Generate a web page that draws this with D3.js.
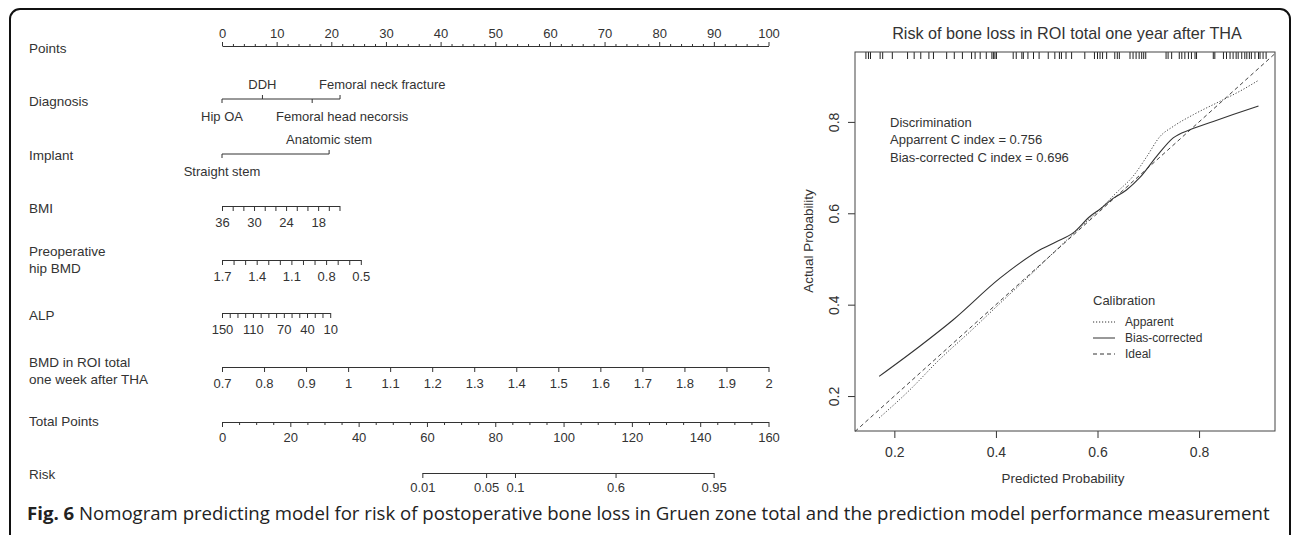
<!DOCTYPE html>
<html>
<head>
<meta charset="utf-8">
<script src="https://cdn.jsdelivr.net/npm/d3@7"></script>
<style>
body { margin: 0; background: #fff; }
svg text { font-family: "Liberation Sans", Arial, sans-serif; fill: #333; }
</style>
</head>
<body>
<svg id="chart" width="1292" height="535"></svg>
<script>
// ---- nomogram data ----
var pointTicks = d3.range(0, 101, 10);
var pointMinor = d3.range(0, 101, 2);

var diagLevels = ["Hip OA", "DDH", "Femoral head necorsis", "Femoral neck fracture"];
var diagPoints = [0, 7.4, 16.5, 21.6];

var implantLevels = ["Straight stem", "Anatomic stem"];
var implantPoints = [0, 19.6];

var bmiEnds = [36, 14], bmiPts = [0, 21.5];
var bmiTicks = d3.range(36, 13, -2);
var bmiLabels = [36, 30, 24, 18];

var bmdEnds = [1.7, 0.5], bmdPts = [0, 25.4];
var bmdTicks = d3.range(5, 18).map(function(d) { return d / 10; });
var bmdLabels = [1.7, 1.4, 1.1, 0.8, 0.5];

var alpEnds = [150, 10], alpPts = [0, 19.8];
var alpTicks = d3.range(10, 151, 10);
var alpLabels = [150, 110, 70, 40, 10];

var roiEnds = [0.7, 2], roiPts = [0, 100];
var roiTicks = d3.range(7, 21).map(function(d) { return d / 10; });

var totalTicks = d3.range(0, 161, 5);
var totalLabels = d3.range(0, 161, 20);

// linear predictor = lpIntercept + lpSlope * total points
var lpIntercept = -9.78, lpSlope = 0.0884;
var riskLabels = [0.01, 0.05, 0.1, 0.6, 0.95];

// ---- calibration data ----
var rugValues = [0.144, 0.149, 0.153, 0.172, 0.177, 0.196, 0.226, 0.239, 0.252, 0.268, 0.277,
  0.303, 0.318, 0.334, 0.352, 0.359, 0.369, 0.381, 0.392, 0.395, 0.398, 0.401, 0.434, 0.440,
  0.451, 0.454, 0.463, 0.474, 0.485, 0.503, 0.516, 0.525, 0.529, 0.538, 0.549, 0.575, 0.594,
  0.600, 0.605, 0.610, 0.618, 0.634, 0.639, 0.643, 0.664, 0.670, 0.676, 0.682, 0.687, 0.691,
  0.695, 0.735, 0.739, 0.746, 0.761, 0.766, 0.772, 0.779, 0.785, 0.792, 0.795, 0.828, 0.831,
  0.848, 0.854, 0.861, 0.867, 0.873, 0.877, 0.884, 0.890, 0.894, 0.899, 0.903, 0.910, 0.917,
  0.920, 0.926, 0.932];

var apparentPred = [0.170, 0.230, 0.288, 0.350, 0.408, 0.460, 0.520, 0.560, 0.600, 0.640, 0.670, 0.697, 0.723, 0.749, 0.789, 0.841, 0.880, 0.917];
var apparentObs  = [0.152, 0.213, 0.279, 0.342, 0.403, 0.457, 0.521, 0.563, 0.604, 0.648, 0.681, 0.724, 0.768, 0.790, 0.816, 0.845, 0.867, 0.891];

var biasPred = [0.170, 0.250, 0.316, 0.408, 0.487, 0.520, 0.552, 0.585, 0.606, 0.630, 0.657, 0.684, 0.716, 0.749, 0.782, 0.828, 0.867, 0.917];
var biasObs  = [0.243, 0.309, 0.367, 0.458, 0.520, 0.538, 0.557, 0.593, 0.610, 0.632, 0.651, 0.679, 0.724, 0.765, 0.783, 0.801, 0.816, 0.835];

var xTicks = [0.2, 0.4, 0.6, 0.8];
var yTicks = [0.2, 0.4, 0.6, 0.8];

var svg = d3.select("#chart");
var ink = "#333";

// outer frame
svg.append("rect")
  .attr("x", 10).attr("y", 9)
  .attr("width", 1280).attr("height", 540)
  .attr("rx", 10)
  .style("fill", "none").style("stroke", "#111").style("stroke-width", 2);

// ---- nomogram ----
var px = d3.scaleLinear().domain([0, 100]).range([222, 768.5]);
var tx = d3.scaleLinear().domain([0, 160]).range([222, 768.5]);

function near(list, v) {
  return list.some(function(l) { return Math.abs(l - v) < 1e-6; });
}
function fmt(v) { return String(+v.toFixed(2)); }

function styleAxis(g) {
  g.attr("font-family", null).attr("font-size", null);
  g.selectAll("path, line").style("stroke", ink);
  g.selectAll("text").style("font-size", "13px").style("fill", ink);
}

function rowLabel(lines, y) {
  var t = svg.append("text").attr("x", 29).attr("y", y).style("font-size", "13.5px");
  lines.forEach(function(s, i) {
    t.append("tspan").attr("x", 29).attr("dy", i === 0 ? "0.35em" : "17px").text(s);
  });
}

function contRow(ends, pts, ticks, labels, y) {
  var s = d3.scaleLinear().domain(ends).range([px(pts[0]), px(pts[1])]);
  var g = svg.append("g").attr("transform", "translate(0," + y + ")");
  g.call(d3.axisBottom(s).tickValues(ticks).tickSize(5).tickSizeOuter(0)
    .tickFormat(function(d) { return near(labels, d) ? fmt(d) : ""; }));
  styleAxis(g);
  g.selectAll(".tick text").attr("y", 16).attr("dy", "0.35em");
}

function catRow(levels, pts, y, offsets) {
  var g = svg.append("g");
  g.append("line")
    .attr("x1", px(pts[0])).attr("x2", px(pts[pts.length - 1]))
    .attr("y1", y).attr("y2", y).style("stroke", ink);
  levels.forEach(function(name, i) {
    var above = i % 2 === 1;
    var x = px(pts[i]);
    g.append("line").attr("x1", x).attr("x2", x)
      .attr("y1", y).attr("y2", above ? y - 4 : y + 4).style("stroke", ink);
    var o = offsets[i];
    g.append("text")
      .attr("x", x + o.dx).attr("y", above ? y - 15 : y + 17)
      .attr("dy", "0.35em").attr("text-anchor", o.anchor)
      .style("font-size", "13px").text(name);
  });
}

// Points
rowLabel(["Points"], 48);
var gp = svg.append("g").attr("transform", "translate(0,46)");
gp.call(d3.axisTop(px).tickValues(pointTicks).tickSize(4).tickSizeOuter(0));
styleAxis(gp);
gp.selectAll(".tick text").attr("y", -13).attr("dy", "0.35em");
var gpm = svg.append("g").attr("transform", "translate(0,46)");
gpm.call(d3.axisTop(px).tickValues(pointMinor.filter(function(d) { return d % 10 !== 0; }))
  .tickSize(2).tickFormat(""));
gpm.select(".domain").remove();
styleAxis(gpm);

// Diagnosis
rowLabel(["Diagnosis"], 101);
catRow(diagLevels, diagPoints, 99, [
  { dx: 0, anchor: "middle" }, { dx: 0, anchor: "middle" },
  { dx: 30, anchor: "middle" }, { dx: -21, anchor: "start" }]);

// Implant
rowLabel(["Implant"], 155);
catRow(implantLevels, implantPoints, 154, [
  { dx: 0, anchor: "middle" }, { dx: 0, anchor: "middle" }]);

rowLabel(["BMI"], 208);
contRow(bmiEnds, bmiPts, bmiTicks, bmiLabels, 206);

rowLabel(["Preoperative", "hip BMD"], 251);
contRow(bmdEnds, bmdPts, bmdTicks, bmdLabels, 260);

rowLabel(["ALP"], 315);
contRow(alpEnds, alpPts, alpTicks, alpLabels, 313);

rowLabel(["BMD in ROI total", "one week after THA"], 362);
contRow(roiEnds, roiPts, roiTicks, roiTicks, 367);

// Total points
rowLabel(["Total Points"], 421);
var gt = svg.append("g").attr("transform", "translate(0,422)");
gt.call(d3.axisBottom(tx).tickValues(totalTicks).tickSize(5).tickSizeOuter(0)
  .tickFormat(function(d) { return near(totalLabels, d) ? d : ""; }));
styleAxis(gt);
gt.selectAll(".tick text").attr("y", 15).attr("dy", "0.35em");
gt.selectAll(".tick line").attr("y2", function(d) { return near(totalLabels, d) ? 5 : 3; });

// Risk
function logit(p) { return Math.log(p / (1 - p)); }
var lpLo = logit(riskLabels[0]), lpHi = logit(riskLabels[riskLabels.length - 1]);
var rx = d3.scaleLinear().domain([lpLo, lpHi])
  .range([tx((lpLo - lpIntercept) / lpSlope), tx((lpHi - lpIntercept) / lpSlope)]);
rowLabel(["Risk"], 474);
var gr = svg.append("g").attr("transform", "translate(0,473)");
gr.call(d3.axisBottom(rx).tickValues(riskLabels.map(logit)).tickSize(5).tickSizeOuter(0)
  .tickFormat(function(d, i) { return riskLabels[i]; }));
styleAxis(gr);
gr.selectAll(".tick text").attr("y", 14).attr("dy", "0.35em");

// ---- calibration plot ----
var cx = d3.scaleLinear().domain([0.1225, 0.9495]).range([855, 1275]);
var cy = d3.scaleLinear().domain([0.1235, 0.953]).range([431, 52]);

svg.append("text")
  .attr("x", 1067).attr("y", 33).attr("dy", "0.35em")
  .attr("text-anchor", "middle").style("font-size", "16.2px")
  .text("Risk of bone loss in ROI total one year after THA");

var gx = svg.append("g").attr("transform", "translate(0,431)");
gx.call(d3.axisBottom(cx).tickValues(xTicks).tickSize(7).tickSizeOuter(0));
gx.select(".domain").remove();
styleAxis(gx);
gx.selectAll(".tick text").attr("y", 21).attr("dy", "0.35em").style("font-size", "14px");

var gy = svg.append("g").attr("transform", "translate(855,0)");
gy.call(d3.axisLeft(cy).tickValues(yTicks).tickSize(7).tickSizeOuter(0));
gy.select(".domain").remove();
styleAxis(gy);
gy.selectAll(".tick text")
  .attr("x", null).attr("dy", null)
  .attr("text-anchor", "middle")
  .attr("transform", "translate(-21,0) rotate(-90)")
  .attr("y", 0).attr("dy", "0.35em").style("font-size", "14px");

svg.append("text")
  .attr("x", 1063).attr("y", 478).attr("dy", "0.35em")
  .attr("text-anchor", "middle").style("font-size", "13.4px")
  .text("Predicted Probability");

svg.append("text")
  .attr("transform", "translate(808,241) rotate(-90)")
  .attr("dy", "0.35em").attr("text-anchor", "middle").style("font-size", "13.4px")
  .text("Actual Probability");

// rug
svg.append("g").selectAll("line")
  .data(rugValues)
  .enter().append("line")
  .attr("x1", function(d) { return cx(d); })
  .attr("x2", function(d) { return cx(d); })
  .attr("y1", 52).attr("y2", 59)
  .style("stroke", "#222").style("stroke-width", 1);

var line = d3.line()
  .x(function(d) { return cx(d[0]); })
  .y(function(d) { return cy(d[1]); })
  .curve(d3.curveMonotoneX);

var idealPts = [[cx.domain()[0], cx.domain()[0]], [cx.domain()[1], cx.domain()[1]]];
svg.append("path").datum(idealPts).attr("d", line)
  .style("fill", "none").style("stroke", "#444").style("stroke-dasharray", "4,3");

svg.append("path").datum(d3.zip(apparentPred, apparentObs)).attr("d", line)
  .style("fill", "none").style("stroke", "#444").style("stroke-dasharray", "1.2,1.8");

svg.append("path").datum(d3.zip(biasPred, biasObs)).attr("d", line)
  .style("fill", "none").style("stroke", "#333").style("stroke-width", 1.1);

// plot box
svg.append("rect")
  .attr("x", 855).attr("y", 52).attr("width", 420).attr("height", 379)
  .style("fill", "none").style("stroke", "#444");

// discrimination text
var disc = ["Discrimination", "Apparrent C index = 0.756", "Bias-corrected C index = 0.696"];
svg.append("g").selectAll("text")
  .data(disc).enter().append("text")
  .attr("x", 890).attr("y", function(d, i) { return 122 + i * 17.5; })
  .attr("dy", "0.35em").style("font-size", "13px")
  .text(function(d) { return d; });

// legend
svg.append("text").attr("x", 1093).attr("y", 300).attr("dy", "0.35em")
  .style("font-size", "13px").text("Calibration");
var legendItems = [
  { name: "Apparent", dash: "1.2,1.8" },
  { name: "Bias-corrected", dash: null },
  { name: "Ideal", dash: "4,3" }];
var lg = svg.append("g").selectAll("g")
  .data(legendItems).enter().append("g")
  .attr("transform", function(d, i) { return "translate(1093," + (322 + i * 16) + ")"; });
lg.append("line").attr("x1", 0).attr("x2", 22).attr("y1", 0).attr("y2", 0)
  .style("stroke", "#333").style("stroke-dasharray", function(d) { return d.dash; });
lg.append("text").attr("x", 32).attr("dy", "0.35em").style("font-size", "12px")
  .text(function(d) { return d.name; });

// caption
var cap = svg.append("text").attr("x", 27).attr("y", 520)
  .style("font-family", "'Open Sans', sans-serif").style("font-size", "18.6px").style("fill", "#222");
cap.append("tspan").style("font-weight", "bold").text("Fig. 6");
cap.append("tspan").text(" Nomogram predicting model for risk of postoperative bone loss in Gruen zone total and the prediction model performance measurement");
</script>
</body>
</html>
